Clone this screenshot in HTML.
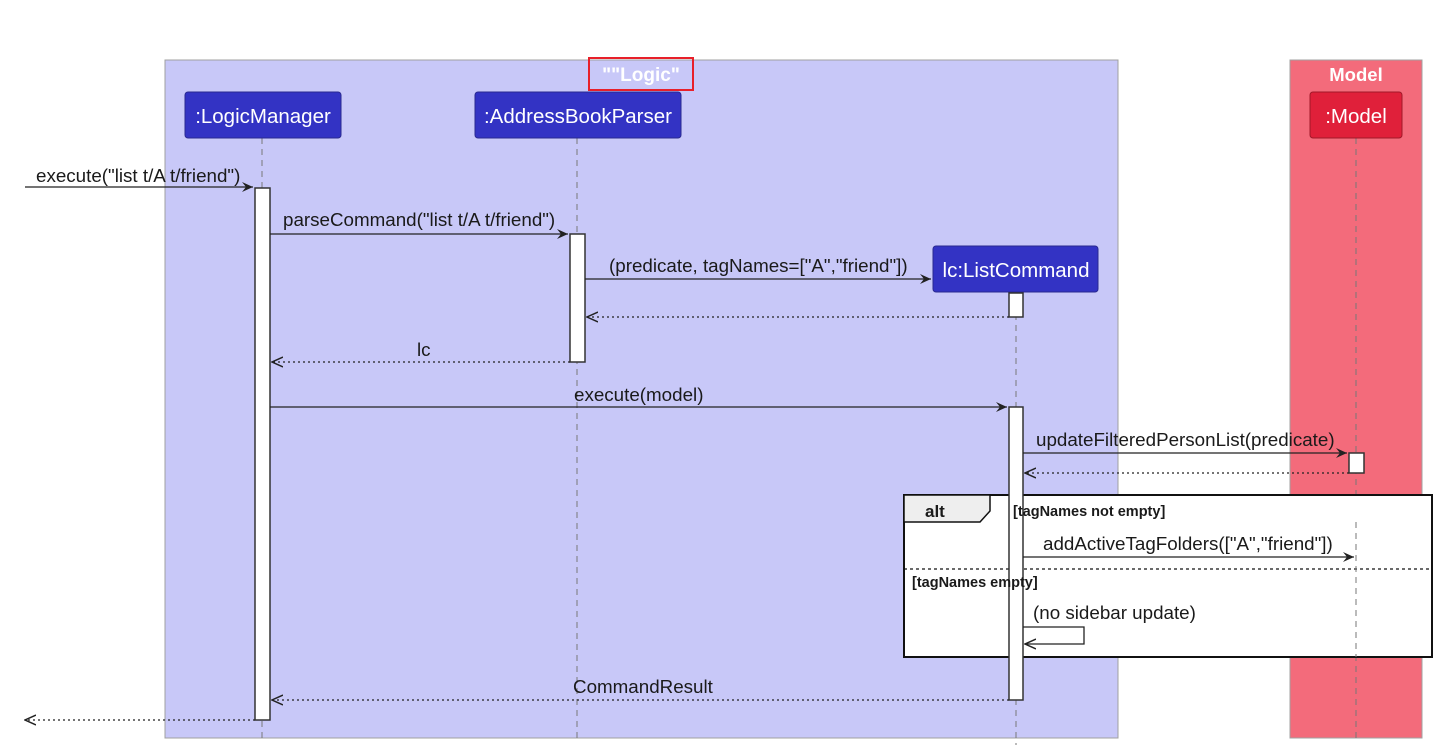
<!DOCTYPE html>
<html><head><meta charset="utf-8"><style>
html,body{margin:0;padding:0;background:#fff}
svg{display:block}
text{font-family:"Liberation Sans",Arial,sans-serif;fill:#1a1a1a}
</style></head><body>
<svg width="1441" height="754" viewBox="0 0 1441 754" xmlns="http://www.w3.org/2000/svg">
<defs>
<marker id="a" markerWidth="12" markerHeight="10" refX="11" refY="5" orient="auto" markerUnits="userSpaceOnUse">
<path d="M0,0 L11,5 L0,10 L4,5 Z" fill="#222"/>
</marker>
<marker id="o" markerWidth="12" markerHeight="12" refX="11" refY="6" orient="auto" markerUnits="userSpaceOnUse">
<path d="M0,1 L11,6 L0,11" fill="none" stroke="#222" stroke-width="1.5"/>
</marker>
</defs>
<rect x="165" y="60" width="953" height="678" fill="#c8c8f8" stroke="#a0a0a0" stroke-width="1"/>
<rect x="589" y="58" width="104" height="32" fill="none" stroke="#e8202a" stroke-width="2"/>
<text x="641" y="81" text-anchor="middle" font-size="19" font-weight="bold" style="fill:#fff">""Logic"</text>
<rect x="1290" y="60" width="132" height="678" fill="#f36b7b" stroke="#a0a0a0" stroke-width="1"/>
<text x="1356" y="81" text-anchor="middle" font-size="18.5" font-weight="bold" style="fill:#fff">Model</text>
<g stroke="#777" stroke-width="1" stroke-dasharray="6,5">
<line x1="262" y1="138" x2="262" y2="740"/>
<line x1="577" y1="138" x2="577" y2="740"/>
<line x1="1016" y1="292" x2="1016" y2="745"/>
<line x1="1356" y1="138" x2="1356" y2="740"/>
</g>
<rect x="185" y="92" width="156" height="46" rx="3" fill="#3333c4" stroke="#2a2a90"/>
<text x="263" y="123" text-anchor="middle" font-size="20.5" style="fill:#fff">:LogicManager</text>
<rect x="475" y="92" width="206" height="46" rx="3" fill="#3333c4" stroke="#2a2a90"/>
<text x="578" y="123" text-anchor="middle" font-size="20.5" style="fill:#fff">:AddressBookParser</text>
<rect x="933" y="246" width="165" height="46" rx="3" fill="#3333c4" stroke="#2a2a90"/>
<text x="1016" y="277" text-anchor="middle" font-size="20.5" style="fill:#fff">lc:ListCommand</text>
<rect x="1310" y="92" width="92" height="46" rx="3" fill="#e0203a" stroke="#a01828"/>
<text x="1356" y="123" text-anchor="middle" font-size="20.5" style="fill:#fff">:Model</text>
<rect x="904" y="495" width="528" height="162" fill="#fff" stroke="#111" stroke-width="2"/>
<path d="M904,495 L990,495 L990,511 L980,522 L904,522 Z" fill="#eee" stroke="#111" stroke-width="1.5"/>
<line x1="904" y1="569" x2="1432" y2="569" stroke="#111" stroke-width="1.2" stroke-dasharray="3,3"/>
<g stroke="#777" stroke-width="1" stroke-dasharray="6,5">
<line x1="1356" y1="522" x2="1356" y2="657"/>
</g>
<g fill="#fff" stroke="#333" stroke-width="1.5">
<rect x="255" y="188" width="15" height="532"/>
<rect x="570" y="234" width="15" height="128"/>
<rect x="1009" y="293" width="14" height="24"/>
<rect x="1009" y="407" width="14" height="293"/>
<rect x="1349" y="453" width="15" height="20"/>
</g>
<text x="925" y="517" font-size="17" font-weight="bold">alt</text>
<text x="1013" y="516" font-size="14.5" font-weight="bold">[tagNames not empty]</text>
<text x="912" y="587" font-size="14.5" font-weight="bold">[tagNames empty]</text>
<g stroke="#222" stroke-width="1.3" fill="none">
<line x1="25" y1="187" x2="253" y2="187" marker-end="url(#a)"/>
<line x1="270" y1="234" x2="568" y2="234" marker-end="url(#a)"/>
<line x1="585" y1="279" x2="931" y2="279" marker-end="url(#a)"/>
<line x1="1009" y1="317" x2="587" y2="317" stroke-dasharray="2,3" marker-end="url(#o)"/>
<line x1="570" y1="362" x2="272" y2="362" stroke-dasharray="2,3" marker-end="url(#o)"/>
<line x1="270" y1="407" x2="1007" y2="407" marker-end="url(#a)"/>
<line x1="1023" y1="453" x2="1347" y2="453" marker-end="url(#a)"/>
<line x1="1349" y1="473" x2="1025" y2="473" stroke-dasharray="2,3" marker-end="url(#o)"/>
<line x1="1023" y1="557" x2="1354" y2="557" marker-end="url(#a)"/>
<path d="M1023,627 L1084,627 L1084,644 L1025,644" marker-end="url(#o)"/>
<line x1="1009" y1="700" x2="272" y2="700" stroke-dasharray="2,3" marker-end="url(#o)"/>
<line x1="255" y1="720" x2="25" y2="720" stroke-dasharray="2,3" marker-end="url(#o)"/>
</g>
<g font-size="18.8">
<text x="36" y="182">execute("list t/A t/friend")</text>
<text x="283" y="226">parseCommand("list t/A t/friend")</text>
<text x="609" y="272">(predicate, tagNames=["A","friend"])</text>
<text x="417" y="356">lc</text>
<text x="574" y="401">execute(model)</text>
<text x="1036" y="446">updateFilteredPersonList(predicate)</text>
<text x="1043" y="550">addActiveTagFolders(["A","friend"])</text>
<text x="1033" y="619">(no sidebar update)</text>
<text x="573" y="693">CommandResult</text>
</g>
</svg>
</body></html>
